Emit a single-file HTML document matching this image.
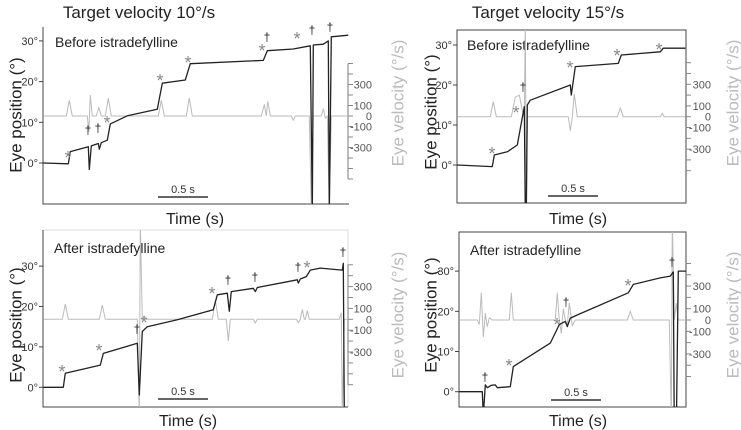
<!DOCTYPE html>
<html><head><meta charset="utf-8"><style>
html,body{margin:0;padding:0;background:#fff}
svg{display:block;font-family:"Liberation Sans",sans-serif}
</style></head><body>
<svg id="fig" width="741" height="430" viewBox="0 0 741 430">
</svg>
<script>
// Panel A: 10 deg/s, before
const posTimeA=[0,0.25,0.27,0.45,0.46,0.48,0.55,0.56,0.58,0.64,0.67,0.84,1.14,1.19,1.42,1.47,2.20,2.24,2.50,2.67,2.69,2.70,2.80,2.85,2.86,2.88,3.05];
const posDegA=[0,-0.2,2.8,4,-1.6,4.2,4.8,3.4,5,5.6,9.6,11.6,13.2,19.6,20.4,24.4,25.2,27.6,28,28.8,-12,29,29.2,30,-12,31,31.4];
const velTimeA=[0,0.23,0.26,0.29,0.44,0.455,0.47,0.49,0.53,0.555,0.58,0.62,0.65,0.68,1.15,1.18,1.21,1.43,1.46,1.49,2.18,2.21,2.23,2.245,2.27,2.48,2.5,2.52,2.66,2.68,2.70,2.78,2.8,2.82,2.84,2.86,2.88,3.05];
const velValA=[0,0,150,0,0,-150,200,0,0,80,0,0,170,0,0,150,0,0,170,0,0,110,0,140,0,0,-40,0,0,-900,0,0,70,-20,0,-900,0,0];
// Panel B: 15 deg/s, before
const posTimeB=[0,0.35,0.37,0.50,0.60,0.67,0.68,0.69,0.70,0.73,1.13,1.14,1.18,1.61,1.64,2.03,2.06,2.28];
const posDegB=[0,-0.4,2.5,3.3,5,14.6,-12,-12,15,16.2,20,17.5,24.6,25.4,27.5,28.3,29.2,29.2];
const velTimeB=[0,0.33,0.36,0.39,0.54,0.58,0.62,0.65,0.67,0.68,0.69,0.70,1.11,1.13,1.15,1.17,1.20,1.60,1.63,1.66,2.03,2.05,2.07,2.28];
const velValB=[0,0,140,0,0,180,200,60,0,900,-900,0,0,-130,0,210,0,0,80,0,0,30,0,0];
// Panel C: 10 deg/s, after
const posTimeC=[0,0.20,0.22,0.57,0.60,0.94,0.96,0.99,1.04,1.34,1.70,1.74,1.84,1.86,1.88,2.10,2.12,2.14,2.54,2.55,2.57,2.63,2.67,2.77,2.99,3.00,3.01,3.05];
const posDegC=[0,0,3.5,5.5,8.4,10.9,-1.9,13.8,15,16.7,19.2,22.9,23.3,18.8,23.7,24.5,23.7,24.7,26.6,25.8,26.8,27.4,29,29.5,29,30.7,-6,-6];
const velTimeC=[0,0.19,0.22,0.25,0.56,0.59,0.62,0.94,0.96,0.97,0.99,1.01,1.03,1.69,1.72,1.75,1.83,1.85,1.87,2.10,2.12,2.14,2.53,2.55,2.57,2.59,2.61,2.62,2.64,2.66,2.96,2.98,2.99,3.01,3.05];
const velValC=[0,0,140,0,0,130,0,0,-900,900,0,30,0,0,175,0,0,-200,0,0,-35,0,0,-30,0,90,0,0,80,0,0,60,-900,0,0];
// Panel D: 15 deg/s, after
const posTimeD=[0,0.23,0.24,0.26,0.28,0.32,0.36,0.38,0.51,0.54,0.91,1.00,1.06,1.08,1.11,1.19,1.69,1.74,2.01,2.11,2.14,2.15,2.17,2.19,2.27];
const posDegD=[0,0,-6,1.7,1,1.6,1.7,1,1.25,6.25,12.1,16.7,17.5,16.2,18.3,19.2,24.6,26.7,28.3,28.75,29.8,-10,-10,30,30];
const velTimeD=[0,0.18,0.20,0.22,0.24,0.26,0.28,0.30,0.33,0.50,0.52,0.54,0.96,0.98,1.00,1.02,1.04,1.06,1.08,1.10,1.13,1.16,1.68,1.71,1.74,2.10,2.12,2.13,2.15,2.17,2.19,2.27];
const velValD=[0,0,-40,240,-150,60,-60,20,0,0,240,0,0,240,0,-120,100,0,-40,150,-50,0,0,75,0,0,-900,900,0,150,0,0];

const posTicks=[0,10,20,30];
const velLabels=[300,100,0,-100,-300];

const NS="http://www.w3.org/2000/svg";
const svg=document.getElementById('fig');
function mk(tag,attrs,parent){const e=document.createElementNS(NS,tag);for(const k in attrs)e.setAttribute(k,attrs[k]);(parent||svg).appendChild(e);return e;}
function txt(s,attrs,parent){const e=mk('text',attrs,parent);e.textContent=s;return e;}

const panels=[
 {id:'a',x0:43.3,y0:163,ppd:4.07,vy0:116,ppv:0.105,cx:43,cy:27,cw:306,ch:177,box:false,vax:348,vtmin:-600,vtmax:500,
  pt:posTimeA,pd:posDegA,vt:velTimeA,vv:velValA,title:'Target velocity 10°/s',titleX:139,cond:'Before istradefylline',condX:55,condY:47,
  ylabX:16,ylabY:115,vlabX:398,vlabY:103,vtickX:372,bar:[158,208,197],timeY:224,timeX:195,
  marks:[['*',68,155],['†',88,130],['†',98,128],['*',107,120],['*',160,78],['*',188,60],['*',262,48],['†',267,37],['*',297,36],['†',312,30],['†',330,27]]},
 {id:'b',x0:457.3,y0:165,ppd:4.0,vy0:116.7,ppv:0.108,cx:457,cy:30,cw:229,ch:173,box:true,vax:686,vtmin:-500,vtmax:500,
  pt:posTimeB,pd:posDegB,vt:velTimeB,vv:velValB,title:'Target velocity 15°/s',titleX:548,cond:'Before istradefylline',condX:467,condY:50,
  ylabX:431,ylabY:112,vlabX:733,vlabY:103,vtickX:711,bar:[548,598,196],timeY:224,timeX:578,
  marks:[['*',492,151],['*',516,110],['†',523,87],['*',570,65],['*',617,53],['*',659,47]]},
 {id:'c',x0:43.3,y0:387.3,ppd:4.04,vy0:319.3,ppv:0.109,cx:43,cy:230,cw:305,ch:177,box:'light',vax:348,vtmin:-600,vtmax:500,
  pt:posTimeC,pd:posDegC,vt:velTimeC,vv:velValC,title:null,cond:'After istradefylline',condX:54,condY:253,
  ylabX:16,ylabY:325,vlabX:398,vlabY:315,vtickX:372,bar:[158,208,399],timeY:426,timeX:188,
  marks:[['*',62,369],['*',99,348],['†',137,329],['*',144,320],['*',212,291],['†',228,280],['†',255,277],['†',298,267],['*',307,265],['†',343,252]]},
 {id:'d',x0:459.3,y0:391.7,ppd:4.02,vy0:320,ppv:0.113,cx:459,cy:232,cw:227,ch:175,box:true,vax:686,vtmin:-500,vtmax:500,
  pt:posTimeD,pd:posDegD,vt:velTimeD,vv:velValD,title:null,cond:'After istradefylline',condX:470,condY:255,
  ylabX:431,ylabY:315,vlabX:733,vlabY:315,vtickX:711,bar:[551,601,400],timeY:426,timeX:578,
  marks:[['†',485,377],['*',509,363],['*',557,322],['†',566,302],['*',628,283],['†',672,262]]}
];

panels.forEach(p=>{
  const g=mk('g',{});
  
  
  const X=t=>p.x0+t*100, Y=d=>p.y0-d*p.ppd, V=v=>p.vy0-v*p.ppv;
  const cp=mk('clipPath',{id:'clip'+p.id},g);
  mk('rect',{x:p.cx,y:p.cy,width:p.cw,height:p.ch},cp);
  if(p.title){const t=txt(p.title,{x:p.titleX,y:18,'text-anchor':'middle','font-size':17,fill:'#222'},g);
    }
  // frame
  if(p.box===true){const r=mk('rect',{x:p.cx,y:p.cy,width:p.cw,height:p.ch,fill:'none',stroke:'#444','stroke-width':1},g);
    }
  else{
    if(p.box==='light'){mk('rect',{x:p.cx,y:p.cy,width:p.cw,height:p.ch,fill:'none',stroke:'#ddd','stroke-width':1},g);}
    const l=mk('path',{d:`M${p.cx},${p.cy} V${p.cy+p.ch} H${p.cx+p.cw}`,fill:'none',stroke:'#444','stroke-width':1},g);
    
    mk('line',{x1:p.vax,x2:p.vax,y1:V(p.vtmax),y2:V(p.vtmin),stroke:'#777','stroke-width':1},g);
  }
  // position ticks
  posTicks.forEach(d=>{
    mk('line',{x1:p.cx-4,x2:p.cx,y1:Y(d),y2:Y(d),stroke:'#444'},g);
    const t=txt(d+'°',{x:p.cx-5,y:Y(d)+4,'text-anchor':'end','font-size':11,fill:'#333'},g);
    
  });
  // velocity ticks
  for(let v=p.vtmin;v<=p.vtmax;v+=100){mk('line',{x1:p.vax,x2:p.vax+5,y1:V(v),y2:V(v),stroke:'#888'},g);}
  velLabels.forEach(v=>{
    const t=txt(String(v),{x:p.vtickX,y:V(v)+4,'text-anchor':'end','font-size':11,fill:'#555'},g);
    
  });
  // axis labels
  const yl=txt('Eye position (°)',{x:p.ylabX,y:p.ylabY,transform:`rotate(-90 ${p.ylabX} ${p.ylabY})`,'text-anchor':'middle','dominant-baseline':'central','font-size':17,fill:'#222'},g);
  
  const vl=txt('Eye velocity (°/s)',{x:p.vlabX,y:p.vlabY,transform:`rotate(-90 ${p.vlabX} ${p.vlabY})`,'text-anchor':'middle','dominant-baseline':'central','font-size':17,fill:'#bbb'},g);
  
  const tl=txt('Time (s)',{x:p.timeX,y:p.timeY,'text-anchor':'middle','font-size':16,fill:'#222'},g);
  
  const cl=txt(p.cond,{x:p.condX,y:p.condY,'font-size':14,fill:'#222'},g);
  
  // scale bar
  const sb=mk('line',{x1:p.bar[0],x2:p.bar[1],y1:p.bar[2],y2:p.bar[2],stroke:'#333','stroke-width':1.5},g);
  
  txt('0.5 s',{x:(p.bar[0]+p.bar[1])/2,y:p.bar[2]-4,'text-anchor':'middle','font-size':11,fill:'#333'},g);
  // velocity trace
  const vp=p.vt.map((t,i)=>X(t).toFixed(1)+','+V(p.vv[i]).toFixed(1)).join(' ');
  const vline=mk('polyline',{points:vp,fill:'none',stroke:'#bbb','stroke-width':1,'clip-path':`url(#clip${p.id})`},g);
  
  
  // position trace
  const pp=p.pt.map((t,i)=>X(t).toFixed(1)+','+Y(p.pd[i]).toFixed(1)).join(' ');
  const pline=mk('polyline',{points:pp,fill:'none',stroke:'#222','stroke-width':1.3,'stroke-linejoin':'round','clip-path':`url(#clip${p.id})`},g);
  
  
  // annotations
  p.marks.forEach(m=>{
    const star=m[0]==='*';
    const t=txt(m[0],{x:m[1],y:m[2]+(star?9:4),'text-anchor':'middle','font-size':star?18:12,fill:star?'#888':'#222'},g);
    
    
  });
});
</script>
</body></html>
